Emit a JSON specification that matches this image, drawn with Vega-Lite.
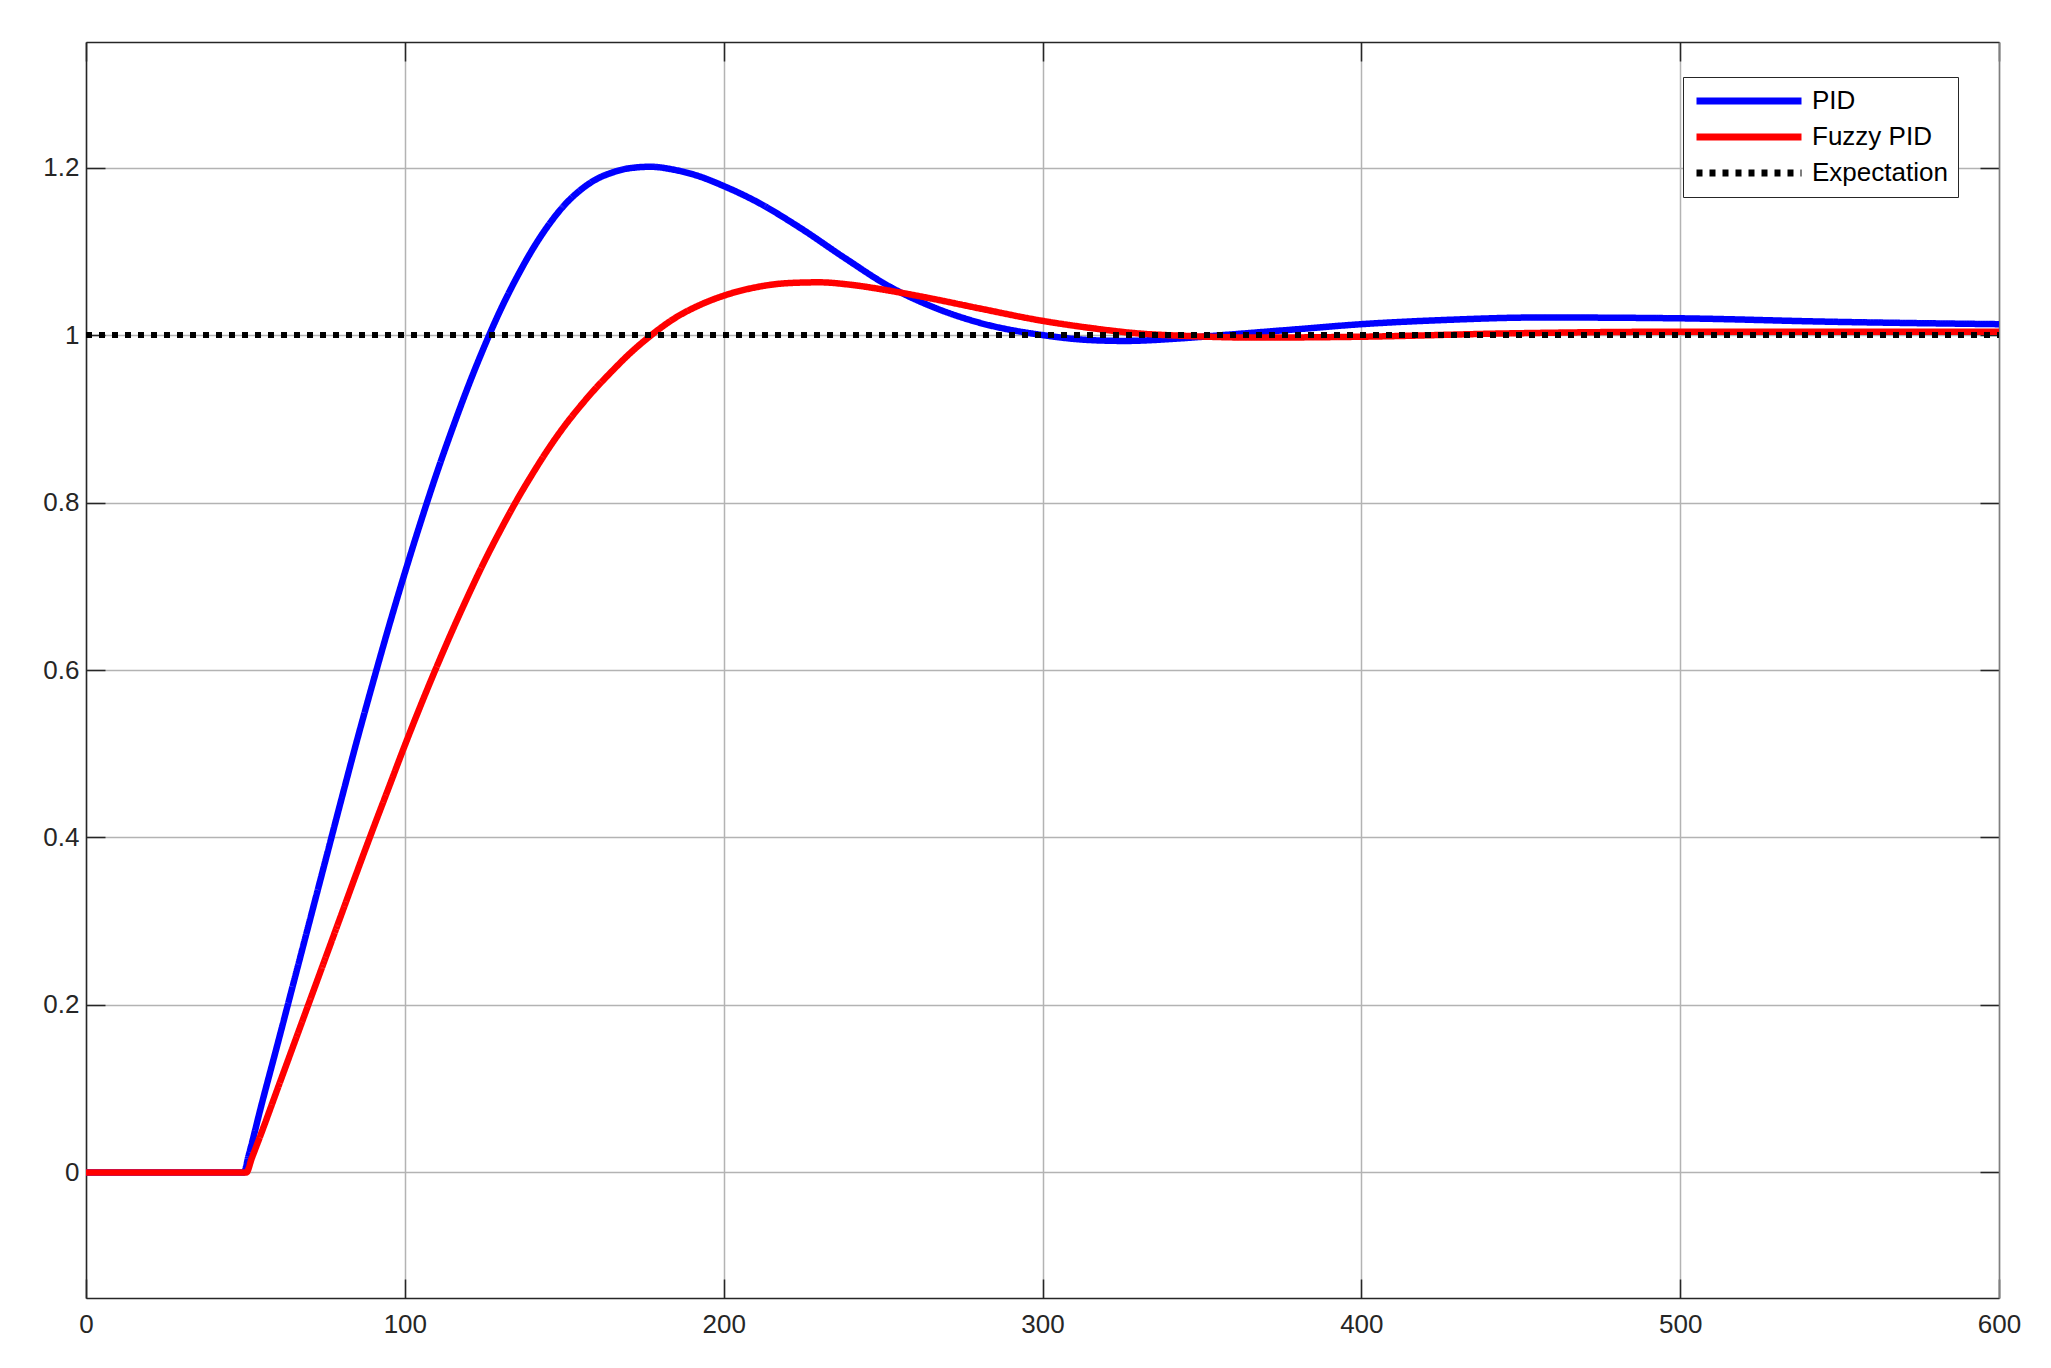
{
  "$schema": "https://vega.github.io/schema/vega-lite/v6.json",
  "width": 1913,
  "height": 1256,
  "autosize": {"type": "none"},
  "padding": {"left": 86, "top": 42, "right": 52, "bottom": 70},
  "background": "white",
  "config": {
    "font": "Liberation Sans",
    "view": {"stroke": null},
    "axis": {
      "labelFont": "Liberation Sans",
      "labelFontSize": 26,
      "labelColor": "#262626",
      "tickColor": "#262626",
      "tickWidth": 1.5,
      "domainColor": "#262626",
      "domainWidth": 1.5,
      "gridColor": "#b3b3b3",
      "gridWidth": 1.5,
      "title": null
    },
    "legend": {
      "orient": "none",
      "legendX": 1597,
      "legendY": 35,
      "title": null,
      "symbolType": "M-1,0H9",
      "symbolSize": 441,
      "symbolStrokeWidth": 7,
      "labelFont": "Liberation Sans",
      "labelFontSize": 26,
      "labelColor": "#000000",
      "labelOffset": 91,
      "labelLimit": 0,
      "padding": 10,
      "rowPadding": 8,
      "strokeColor": "#262626",
      "fillColor": "#ffffff"
    }
  },
  "datasets": {
    "curves": [
      {"x": 0, "y": 0, "series": "PID"},
      {"x": 49.5, "y": 0, "series": "PID"},
      {"x": 51, "y": 0.02, "series": "PID"},
      {"x": 55, "y": 0.08, "series": "PID"},
      {"x": 60, "y": 0.152, "series": "PID"},
      {"x": 65, "y": 0.225, "series": "PID"},
      {"x": 70, "y": 0.298, "series": "PID"},
      {"x": 75, "y": 0.371, "series": "PID"},
      {"x": 80, "y": 0.444, "series": "PID"},
      {"x": 85, "y": 0.516, "series": "PID"},
      {"x": 90, "y": 0.585, "series": "PID"},
      {"x": 95, "y": 0.652, "series": "PID"},
      {"x": 100, "y": 0.716, "series": "PID"},
      {"x": 105, "y": 0.777, "series": "PID"},
      {"x": 110, "y": 0.835, "series": "PID"},
      {"x": 115, "y": 0.889, "series": "PID"},
      {"x": 120, "y": 0.94, "series": "PID"},
      {"x": 125, "y": 0.987, "series": "PID"},
      {"x": 130, "y": 1.03, "series": "PID"},
      {"x": 135, "y": 1.068, "series": "PID"},
      {"x": 140, "y": 1.102, "series": "PID"},
      {"x": 145, "y": 1.131, "series": "PID"},
      {"x": 150, "y": 1.155, "series": "PID"},
      {"x": 155, "y": 1.173, "series": "PID"},
      {"x": 160, "y": 1.186, "series": "PID"},
      {"x": 165, "y": 1.194, "series": "PID"},
      {"x": 170, "y": 1.199, "series": "PID"},
      {"x": 177, "y": 1.201, "series": "PID"},
      {"x": 185, "y": 1.197, "series": "PID"},
      {"x": 192, "y": 1.19, "series": "PID"},
      {"x": 200, "y": 1.178, "series": "PID"},
      {"x": 210, "y": 1.16, "series": "PID"},
      {"x": 224, "y": 1.128, "series": "PID"},
      {"x": 238, "y": 1.092, "series": "PID"},
      {"x": 252, "y": 1.058, "series": "PID"},
      {"x": 266, "y": 1.033, "series": "PID"},
      {"x": 280, "y": 1.015, "series": "PID"},
      {"x": 300, "y": 1.0, "series": "PID"},
      {"x": 315, "y": 0.994, "series": "PID"},
      {"x": 326, "y": 0.993, "series": "PID"},
      {"x": 343, "y": 0.996, "series": "PID"},
      {"x": 360, "y": 1.001, "series": "PID"},
      {"x": 380, "y": 1.007, "series": "PID"},
      {"x": 400, "y": 1.013, "series": "PID"},
      {"x": 426, "y": 1.018, "series": "PID"},
      {"x": 456, "y": 1.021, "series": "PID"},
      {"x": 500, "y": 1.02, "series": "PID"},
      {"x": 546, "y": 1.016, "series": "PID"},
      {"x": 600, "y": 1.013, "series": "PID"},
      {"x": 0, "y": 0, "series": "Fuzzy PID"},
      {"x": 50.3, "y": 0, "series": "Fuzzy PID"},
      {"x": 52, "y": 0.017, "series": "Fuzzy PID"},
      {"x": 55, "y": 0.047, "series": "Fuzzy PID"},
      {"x": 60, "y": 0.099, "series": "Fuzzy PID"},
      {"x": 65, "y": 0.151, "series": "Fuzzy PID"},
      {"x": 70, "y": 0.203, "series": "Fuzzy PID"},
      {"x": 75, "y": 0.255, "series": "Fuzzy PID"},
      {"x": 80, "y": 0.307, "series": "Fuzzy PID"},
      {"x": 85, "y": 0.359, "series": "Fuzzy PID"},
      {"x": 90, "y": 0.41, "series": "Fuzzy PID"},
      {"x": 95, "y": 0.46, "series": "Fuzzy PID"},
      {"x": 100, "y": 0.51, "series": "Fuzzy PID"},
      {"x": 105, "y": 0.558, "series": "Fuzzy PID"},
      {"x": 110, "y": 0.604, "series": "Fuzzy PID"},
      {"x": 115, "y": 0.648, "series": "Fuzzy PID"},
      {"x": 120, "y": 0.69, "series": "Fuzzy PID"},
      {"x": 125, "y": 0.73, "series": "Fuzzy PID"},
      {"x": 130, "y": 0.767, "series": "Fuzzy PID"},
      {"x": 135, "y": 0.802, "series": "Fuzzy PID"},
      {"x": 140, "y": 0.834, "series": "Fuzzy PID"},
      {"x": 145, "y": 0.864, "series": "Fuzzy PID"},
      {"x": 150, "y": 0.891, "series": "Fuzzy PID"},
      {"x": 155, "y": 0.915, "series": "Fuzzy PID"},
      {"x": 160, "y": 0.937, "series": "Fuzzy PID"},
      {"x": 165, "y": 0.957, "series": "Fuzzy PID"},
      {"x": 170, "y": 0.976, "series": "Fuzzy PID"},
      {"x": 177, "y": 0.999, "series": "Fuzzy PID"},
      {"x": 185, "y": 1.021, "series": "Fuzzy PID"},
      {"x": 192, "y": 1.035, "series": "Fuzzy PID"},
      {"x": 200, "y": 1.047, "series": "Fuzzy PID"},
      {"x": 210, "y": 1.057, "series": "Fuzzy PID"},
      {"x": 220, "y": 1.062, "series": "Fuzzy PID"},
      {"x": 230, "y": 1.063, "series": "Fuzzy PID"},
      {"x": 240, "y": 1.06, "series": "Fuzzy PID"},
      {"x": 252, "y": 1.053, "series": "Fuzzy PID"},
      {"x": 266, "y": 1.043, "series": "Fuzzy PID"},
      {"x": 280, "y": 1.032, "series": "Fuzzy PID"},
      {"x": 300, "y": 1.017, "series": "Fuzzy PID"},
      {"x": 316, "y": 1.008, "series": "Fuzzy PID"},
      {"x": 330, "y": 1.002, "series": "Fuzzy PID"},
      {"x": 345, "y": 0.999, "series": "Fuzzy PID"},
      {"x": 366, "y": 0.997, "series": "Fuzzy PID"},
      {"x": 400, "y": 0.998, "series": "Fuzzy PID"},
      {"x": 446, "y": 1.002, "series": "Fuzzy PID"},
      {"x": 500, "y": 1.004, "series": "Fuzzy PID"},
      {"x": 600, "y": 1.004, "series": "Fuzzy PID"},
      {"x": 0, "y": 1, "series": "Expectation"},
      {"x": 600, "y": 1, "series": "Expectation"}
    ]
  },
  "data": {"name": "curves"},
  "resolve": {"axis": {"x": "independent", "y": "independent"}},
  "layer": [
    {
      "transform": [{"filter": "datum.series === 'PID'"}],
      "mark": {"type": "line", "strokeWidth": 6.5, "interpolate": "monotone", "strokeCap": "butt", "strokeJoin": "round"},
      "encoding": {
        "x": {"field": "x", "type": "quantitative", "scale": {"domain": [0, 600], "nice": false, "zero": false},
          "axis": {"orient": "bottom", "values": [0, 100, 200, 300, 400, 500, 600], "grid": true, "tickSize": -19, "labelPadding": 32, "labelFlush": false}},
        "y": {"field": "y", "type": "quantitative", "scale": {"domain": [-0.15, 1.35], "nice": false, "zero": false},
          "axis": {"orient": "left", "values": [0, 0.2, 0.4, 0.6, 0.8, 1, 1.2], "format": ".1~f", "grid": true, "tickSize": -19, "labelPadding": 26}},
        "color": {"field": "series", "type": "nominal", "scale": {"domain": ["PID", "Fuzzy PID", "Expectation"], "range": ["#0000ff", "#ff0000", "#000000"]}},
        "strokeDash": {"field": "series", "type": "nominal", "scale": {"domain": ["PID", "Fuzzy PID", "Expectation"], "range": [[1, 0], [1, 0], [6, 7]]}}
      }
    },
    {
      "transform": [{"filter": "datum.series === 'Fuzzy PID'"}],
      "mark": {"type": "line", "strokeWidth": 6.5, "interpolate": "monotone", "strokeCap": "butt", "strokeJoin": "round"},
      "encoding": {
        "x": {"field": "x", "type": "quantitative",
          "axis": {"orient": "top", "values": [0, 100, 200, 300, 400, 500, 600], "grid": false, "labels": false, "tickSize": -19}},
        "y": {"field": "y", "type": "quantitative",
          "axis": {"orient": "right", "values": [0, 0.2, 0.4, 0.6, 0.8, 1, 1.2], "grid": false, "labels": false, "tickSize": -19, "domainColor": "#7f7f7f"}},
        "color": {"field": "series", "type": "nominal"},
        "strokeDash": {"field": "series", "type": "nominal"}
      }
    },
    {
      "transform": [{"filter": "datum.series === 'Expectation'"}],
      "mark": {"type": "line", "strokeWidth": 6, "strokeCap": "butt"},
      "encoding": {
        "x": {"field": "x", "type": "quantitative", "axis": null},
        "y": {"field": "y", "type": "quantitative", "axis": null},
        "color": {"field": "series", "type": "nominal"},
        "strokeDash": {"field": "series", "type": "nominal"}
      }
    }
  ]
}
